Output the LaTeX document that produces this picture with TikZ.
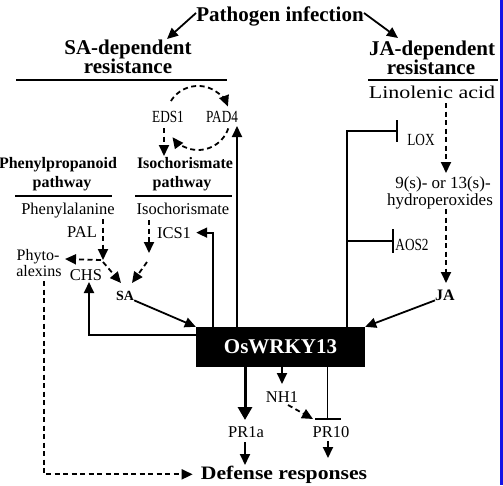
\documentclass[tikz,border=0pt]{standalone}
\usepackage{fontspec}
\setmainfont{Liberation Serif}
\usepackage{graphicx}
\usetikzlibrary{arrows.meta}
\newcommand{\fs}[1]{\fontsize{#1}{#1}\selectfont}
\newcommand{\narr}[1]{\scalebox{0.78}[1]{#1}}
\definecolor{edgeblue}{RGB}{20,20,230}
\begin{document}
\begin{tikzpicture}[x=1pt,y=1pt,
  lab/.style={anchor=base,inner sep=0pt,font=\fs{16.5}},
  small/.style={anchor=base,inner sep=0pt,font=\fs{17}},
  bold/.style={anchor=base,inner sep=0pt,font=\bfseries\fs{21}},
  sub/.style={anchor=base,inner sep=0pt,font=\bfseries\fs{16}},
  arr/.style={line width=1.8pt,-{Triangle[length=11pt,width=10pt]}},
  bigarr/.style={line width=3pt,-{Triangle[length=13pt,width=14pt]}},
  darr/.style={line width=1.8pt,dash pattern=on 5pt off 3.5pt,-{Triangle[length=11pt,width=10pt]}},
  rulel/.style={line width=1.8pt},
  inh/.style={line width=2.8pt,line join=miter},
]
\fill[white] (0,0) rectangle (503,-485);
\useasboundingbox (0,0) rectangle (503,-485);
\fill[edgeblue] (500,0) rectangle (503,-485);

% headings
\node[bold] (title) at (280,-21) {Pathogen infection};
\node[bold] (sa1) at (128,-54) {SA-dependent};
\node[bold] (sa2) at (128,-73) {resistance};
\node[bold] (ja1) at (432,-55) {JA-dependent};
\node[bold] (ja2) at (431,-74) {resistance};
\draw[rulel] (16,-80) -- (227,-80);
\draw[rulel] (368,-80) -- (498,-80);
\node[lab] (lin) at (432,-98) {\scalebox{1.22}[1]{\fs{18}Linolenic acid}};

\draw[arr] (196,-13) -- (167,-39);
\draw[arr] (364,-13) -- (398,-38);

% EDS1 / PAD4
\node[small] (eds1) at (168,-122) {\narr{EDS1}};
\node[small] (pad4) at (222,-122) {\narr{PAD4}};
\coordinate (c1) at (170.9,-101);
\coordinate (c2) at (228.3,-128.4);
\draw[darr] (c1) arc[start angle=148,end angle=21,radius=32];
\draw[darr] (c2) arc[start angle=-19,end angle=-143,radius=32];
\draw[darr] (164,-128) -- (164,-156);

% sub-pathways
\node[sub] (pp1) at (58,-168) {Phenylpropanoid};
\node[sub] (pp2) at (62,-187) {pathway};
\node[sub] (ic1) at (185,-168) {Isochorismate};
\node[sub] (ic2) at (182,-187) {pathway};
\draw[rulel] (15,-196) -- (112,-196);
\draw[rulel] (135,-196) -- (232,-196);
\node[lab] (phe) at (68,-214) {Phenylalanine};
\node[lab] (iso) at (183,-214) {Isochorismate};
\node[lab] (pal) at (82,-237) {PAL};
\node[lab] (ics1) at (174,-238) {ICS1};
\node[anchor=base,inner sep=0pt,font=\fs{16}] (phy1) at (38,-260) {Phyto-};
\node[anchor=base,inner sep=0pt,font=\fs{16}] (phy2) at (39,-276) {alexins};
\node[lab] (chs) at (86,-280) {CHS};
\node[anchor=base,inner sep=0pt,font=\bfseries\fs{14}] (sa) at (125,-300) {SA};

\coordinate (br) at (103,-260);
\draw[darr] (103,-219) -- (br);
\draw[darr] ([xshift=-2pt]br) -- (65,-259);
\draw[darr] ([yshift=-2pt]br) -- (121,-283);
\draw[darr] (149,-220) -- (149,-253);
\draw[darr] (147,-262) -- (132,-283);

% JA side
\node[small] (lox) at (421,-145) {\narr{LOX}};
\node[small] (aos2) at (412,-250) {\narr{AOS2}};
\node[anchor=base,inner sep=0pt,font=\fs{17}] (hp1) at (443,-188) {9(s)- or 13(s)-};
\node[anchor=base,inner sep=0pt,font=\fs{17}] (hp2) at (440,-205) {hydroperoxides};
\node[anchor=base,inner sep=0pt,font=\bfseries\fs{16}] (ja) at (445,-300) {JA};
\draw[darr] (446,-103) -- (446,-173);
\draw[darr] (446,-209) -- (446,-283);

% central box
\node[fill=black,minimum width=169pt,minimum height=40pt,inner sep=0pt,text=white,font=\bfseries\fs{21}] (box) at (280.5,-347) {OsWRKY13};

\draw[inh] (347,-327) |- (397,-131);
\draw[inh] (397,-120) -- (397,-142);
\draw[inh] (347,-241) -- (393,-241);
\draw[inh] (393,-229) -- (393,-253);

\draw[arr] (213,-327) |- ([xshift=5pt]ics1.east);
\draw[arr] (237,-327) -- (237,-126);
\draw[arr] (sa.south east) -- (box.north west);
\draw[arr] (ja.south west) -- (box.north east);
\draw[arr] (196,-335) -| (89,-282);

% below box
\node[lab] (pr1a) at (246,-437) {PR1a};
\node[lab] (nh1) at (282,-402) {NH1};
\node[lab] (pr10) at (331,-437) {PR10};
\node[anchor=base,inner sep=0pt,font=\bfseries\fs{19}] (def) at (284,-479) {\scalebox{1.14}[1]{Defense responses}};

\draw[bigarr] (245,-367) -- (245,-420);
\draw[arr] (245,-442) -- (245,-465);
\draw[arr] (282,-367) -- (282,-384);
\draw[darr] (288,-405) -- (313,-419);
\draw[line width=1pt] (327,-367) -- (327,-419);
\draw[line width=1.6pt] (315,-419) -- (341,-419);
\draw[arr] (328,-441) -- (328,-458);
\draw[darr] (44,-281) |- ([xshift=-8pt]def.west);
\end{tikzpicture}
\end{document}
